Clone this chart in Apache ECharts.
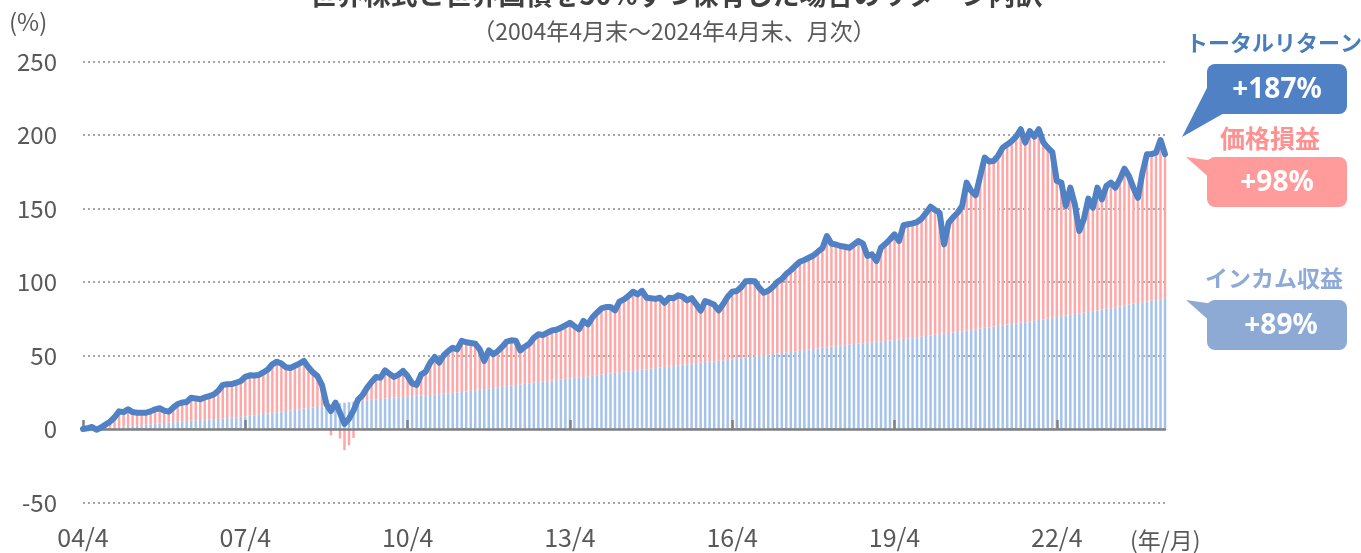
<!DOCTYPE html>
<html>
<head>
<meta charset="utf-8">
<script src="https://cdn.jsdelivr.net/npm/echarts@6/dist/echarts.min.js"></script>
<style>
  html, body { margin: 0; padding: 0; background: #fff; }
  #main { width: 1361px; height: 553px; }
</style>
</head>
<body>
<div id="main"></div>
<script>
// トータルリターン（月次、%）2004/4 〜 2024/4
const totalReturn = [
  0, 0.5, 1.4, -0.5, 1, 3, 5, 8, 12, 11.5, 13.4, 11.5,
  11.1, 11, 11.1, 12, 13.4, 14.1, 12.5, 11.8, 14.5, 17, 18, 18.4,
  21.3, 20.8, 20.2, 21.5, 22.4, 23.5, 26, 30, 30.5, 30.6, 31.5, 32.7,
  35.5, 36.5, 36.4, 36.8, 38.5, 40.5, 44, 45.8, 44.5, 42, 41.5, 43,
  44.5, 46.3, 42, 38.5, 36, 30, 17, 12.2, 17.9, 11, 3.5, 7,
  12.5, 20, 23, 28, 32, 35.4, 34.9, 39.9, 37.5, 35.4, 37, 39.5,
  36, 31, 30, 37, 39, 45, 49, 45.1, 50, 53, 55.3, 54.2,
  60, 59, 58.5, 58, 54.2, 46.3, 53.5, 50.8, 53, 56, 59.5, 60.3,
  60, 53.5, 56, 58, 62, 64.4, 63.9, 65.5, 67, 67.5, 68.9, 70.5,
  72.3, 70, 67.8, 73.5, 71.2, 76, 79.1, 82, 83, 83, 80.7, 86.6,
  88.2, 90.5, 93.4, 91.6, 94, 89.3, 89, 88.5, 89.3, 85.9, 89.3, 89,
  91, 90, 87.5, 89, 85, 80.5, 87.1, 86, 84.5, 80.7, 85, 90,
  93.4, 93.9, 96.5, 100.5, 100.7, 100.5, 96, 92.7, 94, 96.6, 100, 102,
  105.5, 108, 111, 113.8, 115, 116.5, 118, 120.6, 123, 131.3, 126.1, 125.5,
  124.5, 124, 123.3, 125.6, 127.9, 126.1, 117.7, 118.8, 114.3, 123.3, 126, 129,
  132.4, 127.9, 138.6, 139.3, 139.9, 140.8, 143, 147, 151.2, 149, 147.1, 125.6,
  140.3, 144, 147.1, 151.7, 167.6, 162, 159, 172, 184.6, 182, 182.3, 186,
  191.4, 193.5, 195.9, 199, 203.9, 194.8, 202.7, 198.8, 203.9, 195, 191.4, 188.4,
  168.7, 167.6, 151.7, 164.2, 152.9, 134.7, 142.7, 156.7, 150.5, 164.2, 156.2, 165.3,
  167.6, 164.2, 170, 177.1, 172, 164, 157.3, 174.4, 186.9, 187, 188, 196.6,
  187
];

// インカム収益（累積、%）
const incomeReturn = [
  0, 0.2, 0.4, 0.5, 0.7, 0.9, 1.1, 1.3, 1.5, 1.7, 1.9, 2.1,
  2.3, 2.6, 2.9, 3.2, 3.5, 3.8, 4.1, 4.4, 4.7, 5.0, 5.3, 5.5,
  5.7, 5.9, 6.1, 6.3, 6.5, 6.7, 6.9, 7.1, 7.4, 7.7, 8.0, 8.3,
  8.6, 9.0, 9.4, 9.8, 10.2, 10.6, 11.0, 11.4, 11.8, 12.2, 12.6, 13.0,
  13.4, 13.8, 14.2, 14.6, 15.0, 15.5, 16.0, 16.5, 17.0, 17.5, 17.9, 18.2,
  18.6, 18.9, 19.2, 19.5, 19.8, 20.1, 20.4, 20.7, 21.0, 21.3, 21.6, 21.9,
  22.2, 22.4, 22.6, 22.8, 23.0, 23.2, 23.4, 23.7, 24.0, 24.3, 24.6, 24.9,
  25.2, 25.5, 25.9, 26.3, 26.7, 27.1, 27.5, 27.9, 28.3, 28.7, 29.1, 29.5,
  29.9, 30.3, 30.7, 31.1, 31.5, 31.9, 32.3, 32.6, 32.9, 33.3, 33.7, 34.1,
  34.5, 34.8, 35.1, 35.4, 35.8, 36.2, 36.6, 37.0, 37.4, 37.8, 38.2, 38.6,
  39.0, 39.3, 39.6, 39.9, 40.2, 40.6, 41.0, 41.4, 41.8, 42.2, 42.5, 42.8,
  43.2, 43.6, 44.0, 44.4, 44.8, 45.2, 45.5, 45.8, 46.1, 46.4, 46.7, 47.0,
  47.4, 47.8, 48.2, 48.6, 49.0, 49.4, 49.8, 50.2, 50.6, 51.0, 51.4, 51.7,
  52.0, 52.4, 52.8, 53.2, 53.6, 54.0, 54.4, 54.8, 55.2, 55.6, 56.0, 56.3,
  56.6, 57.0, 57.4, 57.8, 58.1, 58.4, 58.7, 59.0, 59.3, 59.6, 59.9, 60.2,
  60.5, 60.9, 61.3, 61.7, 62.1, 62.5, 62.9, 63.3, 63.7, 64.1, 64.5, 64.9,
  65.3, 65.7, 66.1, 66.5, 66.9, 67.3, 67.8, 68.3, 68.8, 69.2, 69.6, 70.1,
  70.6, 71.1, 71.5, 71.9, 72.3, 72.7, 73.1, 73.6, 74.1, 74.6, 75.1, 75.6,
  76.2, 76.7, 77.2, 77.7, 78.2, 78.7, 79.2, 79.7, 80.2, 80.7, 81.2, 81.7,
  82.2, 82.8, 83.4, 84.0, 84.6, 85.2, 85.7, 86.2, 86.7, 87.2, 87.7, 88.3,
  89.0
];

// x軸の目盛ラベル（3年ごと）
const tickLabels = ['04/4', '07/4', '10/4', '13/4', '16/4', '19/4', '22/4'];

// 月次カテゴリ 04/4 〜 24/4
const months = [];
for (let i = 0; i < totalReturn.length; i++) {
  const y = 2004 + Math.floor((3 + i) / 12);
  const m = ((3 + i) % 12) + 1;
  months.push(String(y).slice(2) + '/' + m);
}

// 価格損益 = トータル − インカム
const priceReturn = totalReturn.map((v, i) => +(v - incomeReturn[i]).toFixed(1));

const FONT = '"Noto Sans CJK JP", "Noto Sans", sans-serif';
const LABEL_COLOR = '#595959';

const chart = echarts.init(document.getElementById('main'));

const option = {
  animation: false,
  backgroundColor: '#ffffff',
  textStyle: { fontFamily: FONT },
  grid: {
    left: 83,
    right: 196,
    top: 61.5,
    bottom: 50.5
  },
  xAxis: [
    {
      type: 'category',
      data: months,
      boundaryGap: false,
      z: 3,
      axisLine: {
        onZero: true,
        lineStyle: { color: '#808080', width: 2.5 }
      },
      axisTick: {
        show: true,
        inside: true,
        interval: 35,
        length: 9,
        lineStyle: { color: '#808080', width: 2.5 }
      },
      axisLabel: { show: false },
      splitLine: { show: false }
    },
    {
      type: 'category',
      data: months,
      boundaryGap: false,
      position: 'bottom',
      axisLine: { show: false, onZero: false },
      axisTick: { show: false },
      axisLabel: {
        interval: 35,
        margin: 22,
        fontSize: 25,
        color: LABEL_COLOR,
        fontFamily: FONT,
        formatter: (v) => (tickLabels.indexOf(v) >= 0 ? v : '')
      },
      splitLine: { show: false }
    }
  ],
  yAxis: {
    type: 'value',
    min: -50,
    max: 250,
    interval: 50,
    axisLine: { show: false },
    axisTick: { show: false },
    axisLabel: {
      margin: 26,
      fontSize: 24,
      color: LABEL_COLOR,
      fontFamily: FONT
    },
    splitLine: {
      lineStyle: { color: '#a6a6a6', width: 2, type: [2, 3] }
    }
  },
  series: [
    {
      name: 'インカム収益',
      type: 'bar',
      stack: 'ret',
      xAxisIndex: 0,
      data: incomeReturn,
      barWidth: '55%',
      itemStyle: { color: '#a4c2ea' }
    },
    {
      name: '価格損益',
      type: 'bar',
      stack: 'ret',
      xAxisIndex: 0,
      data: priceReturn,
      barWidth: '55%',
      itemStyle: { color: '#ffa6a6' }
    },
    {
      name: 'トータルリターン',
      type: 'line',
      xAxisIndex: 0,
      data: totalReturn,
      showSymbol: false,
      z: 5,
      lineStyle: { color: '#4f81c4', width: 6, cap: 'round', join: 'round' }
    }
  ],
  graphic: [
    // タイトル（上端で切れている）
    {
      type: 'text',
      style: {
        text: '世界株式と世界国債を50%ずつ保有した場合のリターン内訳',
        x: 676, y: -5,
        textAlign: 'center', textVerticalAlign: 'middle',
        font: 'bold 27px ' + FONT, fill: '#404040'
      }
    },
    {
      type: 'text',
      style: {
        text: '（2004年4月末～2024年4月末、月次）',
        x: 674, y: 31,
        textAlign: 'center', textVerticalAlign: 'middle',
        font: '23px ' + FONT, fill: LABEL_COLOR
      }
    },
    {
      type: 'text',
      style: {
        text: '(%)', x: 9, y: 22,
        textVerticalAlign: 'middle',
        font: '24px ' + FONT, fill: LABEL_COLOR
      }
    },
    {
      type: 'text',
      style: {
        text: '(年/月)', x: 1130, y: 540,
        textVerticalAlign: 'middle',
        font: '23px ' + FONT, fill: LABEL_COLOR
      }
    },
    // トータルリターン
    {
      type: 'text',
      style: {
        text: 'トータルリターン', x: 1274, y: 43,
        textAlign: 'center', textVerticalAlign: 'middle',
        font: 'bold 22px ' + FONT, fill: '#4a7ebb'
      }
    },
    {
      type: 'polygon',
      shape: { points: [[1210, 82], [1182, 137], [1226, 112]] },
      style: { fill: '#4f81c4' }
    },
    {
      type: 'rect',
      shape: { x: 1207, y: 64, width: 140, height: 50, r: 8 },
      style: { fill: '#4f81c4' }
    },
    {
      type: 'text',
      style: {
        text: '+187%', x: 1277, y: 90,
        textAlign: 'center', textVerticalAlign: 'middle',
        font: 'bold 28px "Noto Sans", sans-serif', fill: '#ffffff'
      }
    },
    // 価格損益
    {
      type: 'text',
      style: {
        text: '価格損益', x: 1270, y: 138,
        textAlign: 'center', textVerticalAlign: 'middle',
        font: 'bold 25px ' + FONT, fill: '#ff9191'
      }
    },
    {
      type: 'polygon',
      shape: { points: [[1186, 157], [1214, 161], [1212, 180]] },
      style: { fill: '#ff9b9b' }
    },
    {
      type: 'rect',
      shape: { x: 1207, y: 157, width: 140, height: 50, r: 8 },
      style: { fill: '#ff9b9b' }
    },
    {
      type: 'text',
      style: {
        text: '+98%', x: 1277, y: 183,
        textAlign: 'center', textVerticalAlign: 'middle',
        font: 'bold 28px "Noto Sans", sans-serif', fill: '#ffffff'
      }
    },
    // インカム収益
    {
      type: 'text',
      style: {
        text: 'インカム収益', x: 1274, y: 278,
        textAlign: 'center', textVerticalAlign: 'middle',
        font: 'bold 23px ' + FONT, fill: '#8eaad6'
      }
    },
    {
      type: 'polygon',
      shape: { points: [[1186, 300], [1214, 304], [1212, 323]] },
      style: { fill: '#8caad4' }
    },
    {
      type: 'rect',
      shape: { x: 1207, y: 300, width: 140, height: 50, r: 8 },
      style: { fill: '#8caad4' }
    },
    {
      type: 'text',
      style: {
        text: '+89%', x: 1281, y: 326,
        textAlign: 'center', textVerticalAlign: 'middle',
        font: 'bold 28px "Noto Sans", sans-serif', fill: '#ffffff'
      }
    }
  ]
};

chart.setOption(option);
</script>
</body>
</html>
